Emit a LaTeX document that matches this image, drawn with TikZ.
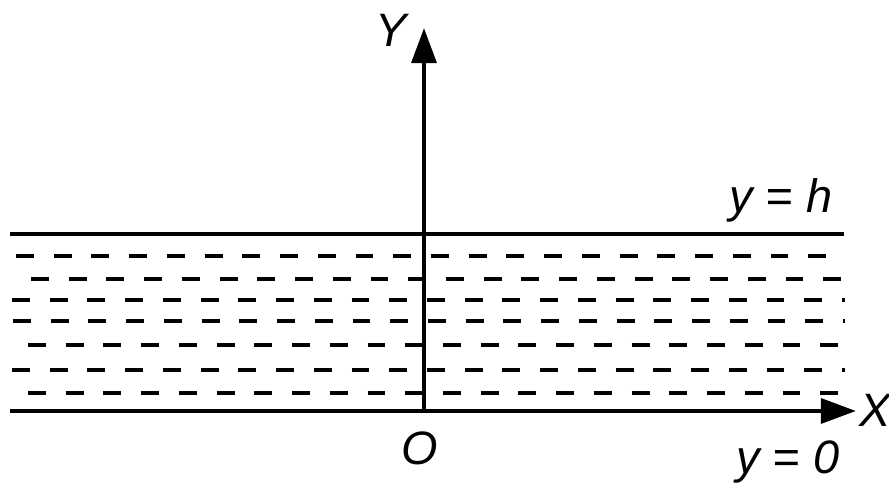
\documentclass[tikz,border=0pt]{standalone}
\usepackage{fontspec}
\setsansfont{Liberation Sans}
\usetikzlibrary{arrows.meta}
\tikzset{
  axis/.style={line width=4pt, -{Triangle[length=30pt,width=21pt]}},
  level/.style={line width=3.8pt},
  water/.style={line width=3.4pt, dash pattern=on 15.3pt off 16.9pt},
  lbl/.style={font=\fontsize{40}{48}\selectfont\sffamily\itshape, inner sep=0pt}
}

\begin{document}
\begin{tikzpicture}[x=0.03cm, y=-0.03cm]
  \useasboundingbox (0,0) rectangle (889,489);
  \coordinate (lefth) at (10,234);
  \coordinate (righth) at (844,234);
  \coordinate (left0) at (10,411);
  \coordinate (xend) at (856,411);
  \coordinate (O) at (424,412);
  \coordinate (yend) at (424,28);

  % dashed layers of the liquid
  \foreach \y/\s in {256/16, 279/31, 300/12, 321/13, 345/28, 370/12, 393/28}
    \draw[water] (\s,\y) -- (845,\y);

  \draw[level] (lefth) -- (righth);
  \draw[axis] (left0) -- (xend);
  \draw[axis] (O) -- (yend);

  \node[lbl] (ylab) at (391,30) {Y};
  \node[lbl, anchor=west] (xlab) at (859,410) {X};
  \node[lbl] (olab) at (420,448) {O};
  \node[lbl] (toplab) at (781,200) {y = h};
  \node[lbl] (botlab) at (788,462) {y = 0};
\end{tikzpicture}
\end{document}
